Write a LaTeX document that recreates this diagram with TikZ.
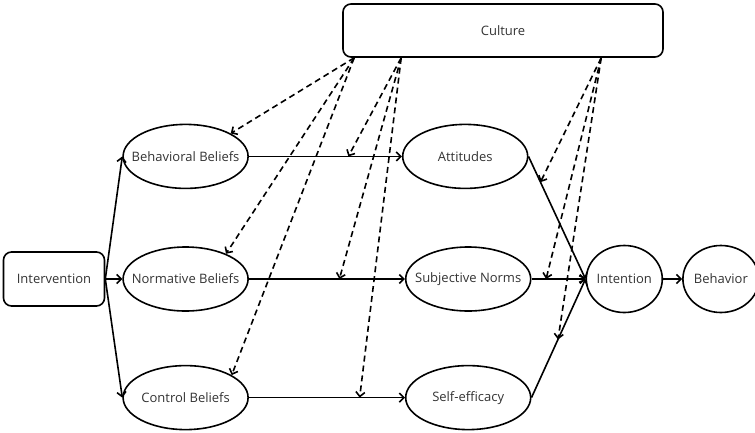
\documentclass[tikz,border=0pt]{standalone}
\usepackage{fontspec}
\setmainfont{Open Sans}
\usetikzlibrary{arrows.meta,positioning,shapes.geometric}

\begin{document}
\begin{tikzpicture}[x=1pt,y=-1pt,line width=1.6pt,
  >={Straight Barb[length=4.5pt,width=9pt]},
  every node/.style={font=\fontsize{13}{15}\selectfont,text=black!80},
  box/.style={draw=black,rounded corners=8pt},
  oval/.style={draw=black,ellipse,inner xsep=-20pt,
    minimum width=125pt,minimum height=64pt},
  small/.style={oval,minimum width=76pt,minimum height=67pt},
  infl/.style={->,dash pattern=on 6pt off 4pt}]
\useasboundingbox (0,0) rectangle (755,432);
\node[box,minimum width=320pt,minimum height=53pt] (culture) at (503,30.5) {Culture};
\node[box,minimum width=101pt,minimum height=54pt] (interv) at (54,279) {Intervention};
\node[oval,right=17pt of interv] (normb) {Normative Beliefs};
\node[oval,above=57pt of normb] (behb) {Behavioral Beliefs};
\node[oval,below=53pt of normb] (ctrlb) {Control Beliefs};
\node[oval,right=153pt of behb] (attit) {Attitudes};
\node[oval,right=156pt of normb] (subjn) {Subjective Norms};
\node[oval,right=156pt of ctrlb] (selfe) {Self-efficacy};
\node[small,right=54pt of subjn] (intn) {Intention};
\node[small,right=19pt of intn] (behv) {Behavior};
\coordinate (ca) at ([xshift=12pt]culture.south west);
\coordinate (cb) at ([xshift=59pt]culture.south west);
\coordinate (cc) at ([xshift=259pt]culture.south west);
\draw[->] (interv.east) -- (behb.west);
\draw[->] (interv) -- (normb);
\draw[->] (interv.east) -- (ctrlb.west);
\draw[->] (behb) -- coordinate[pos=0.65] (mb) (attit);
\draw[->] (normb) -- coordinate[pos=0.58] (mn) (subjn);
\draw[->] (ctrlb) -- coordinate[pos=0.71] (mc) (selfe);
\draw[->] (attit.east) -- coordinate[pos=0.21] (ma) (intn.west);
\draw[->] (subjn) -- coordinate[pos=0.27] (ms) (intn);
\draw[->] (selfe.east) -- coordinate[pos=0.49] (me) (intn.west);
\draw[->] (intn) -- (behv);
\draw[infl] (ca) -- (behb.27);
\draw[infl] (ca) -- (normb.32);
\draw[infl] (ca) -- (ctrlb.26);
\draw[infl] (cb) -- (mb);
\draw[infl] (cb) -- (mn);
\draw[infl] (cb) -- (mc);
\draw[infl] (cc) -- (ma);
\draw[infl] (cc) -- (ms);
\draw[infl] (cc) -- (me);
\end{tikzpicture}
\end{document}
